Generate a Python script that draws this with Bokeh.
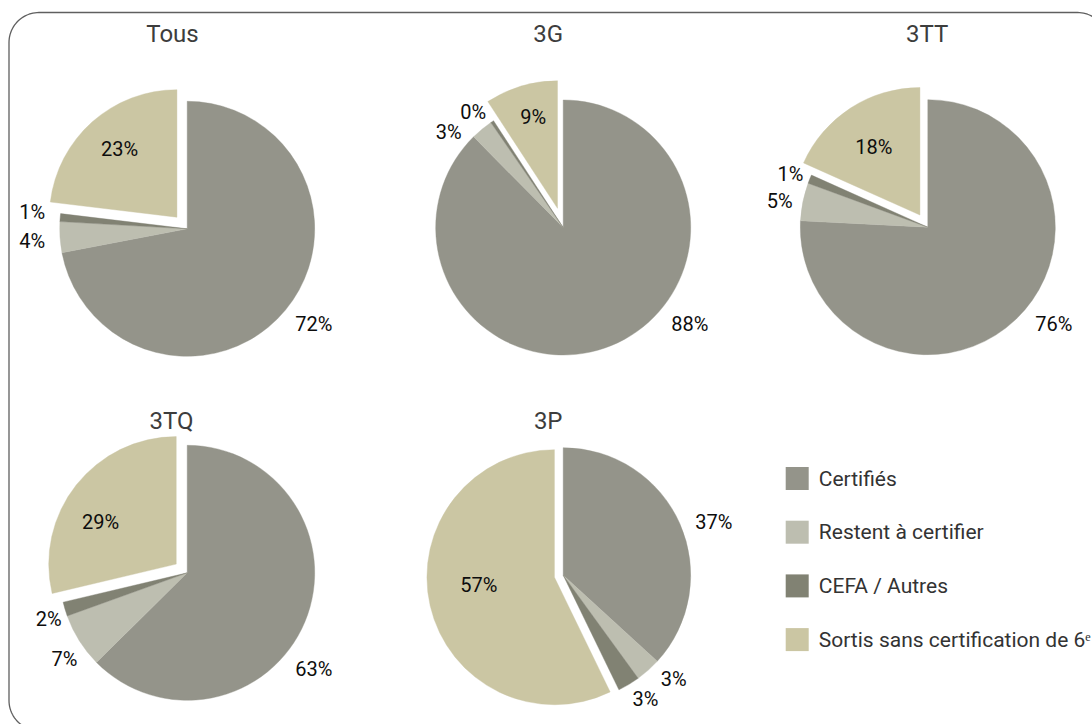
import numpy as np
from bokeh.plotting import figure
from bokeh.models import Range1d, ColumnDataSource
from bokeh.core.properties import value
from bokeh.embed import file_html
from bokeh.resources import INLINE

# ---------------- data ----------------
groups = ["Tous", "3G", "3TT", "3TQ", "3P"]
categories = ["Certifiés", "Restent à certifier", "CEFA / Autres", "Sortis sans certification de 6ᵉ"]
certifies = [72.0, 87.6, 75.8, 62.6, 36.8]
restent = [3.9, 2.8, 4.8, 6.9, 3.2]
cefa = [1.0, 0.4, 1.1, 1.8, 2.8]
sortis = [23.1, 9.2, 18.3, 28.7, 57.2]

# ---------------- style / layout ----------------
colors = ["#94948A", "#BDBEB0", "#818273", "#CBC6A3"]
FONT = "Roboto"
W, H = 1092, 724
def Y(yref):
    return 724 - yref

centers = [(186.7, 228.3), (562.7, 227.0), (927.3, 226.7), (186.7, 572.3), (562.7, 574.7)]
title_pos = [(172, 33.5), (547.7, 33.5), (926.7, 33.5), (171, 420), (547.7, 420)]
radius = 127.5
explode = [15.5, 20.0, 14.5, 14.0, 9.0]
label_offsets = [
    [(126.6, 95), (-155, 12.4), (-155, -16.6), (-67.7, -80)],
    [(126.6, 96.3), (-114.4, -96), (-90, -115.3), (-30, -110.3)],
    [(126, 96.6), (-148, -26.7), (-137.3, -53.4), (-54, -80)],
    [(126.6, 96), (-122.7, 86), (-138.4, 46), (-86.7, -50.6)],
    [(150.6, -53), (110.6, 103.6), (82.3, 123.6), (-84.4, 9.3)],
]

p = figure(width=W, height=H, x_range=Range1d(0, W), y_range=Range1d(724 - H, 724),
           x_axis_location=None, y_axis_location=None, toolbar_location=None,
           output_backend="svg", min_border=0)
p.grid.visible = False
p.outline_line_color = None
p.background_fill_color = "white"
p.border_fill_color = "white"

# ---------------- border (rounded box, partly outside the view) ----------------
rc = 30
bx0, by0, bx1, by1 = 8.5, 12.0, 1107.0, 730.0
t = np.linspace(0, np.pi / 2, 24)
tr = [(bx1 - rc + rc * np.sin(a), by0 + rc - rc * np.cos(a)) for a in t][::-1]
tl = [(bx0 + rc - rc * np.sin(a), by0 + rc - rc * np.cos(a)) for a in t]
bl = [(bx0 + rc - rc * np.cos(a), by1 - rc + rc * np.sin(a)) for a in t]
path = tr + tl + bl
p.line([q[0] for q in path], [Y(q[1]) for q in path], line_color="#5f5f5f", line_width=1.3)

# ---------------- pies ----------------
series = [certifies, restent, cefa, sortis]
for gi, g in enumerate(groups):
    vals = np.array([s[gi] for s in series], dtype=float)
    frac = vals / vals.sum()
    cum = np.concatenate([[0.0], np.cumsum(frac)])
    cx, cy = centers[gi]
    xs, ys, sa, ea, cols = [], [], [], [], []
    for k in range(4):
        a_end = np.pi / 2 - cum[k] * 2 * np.pi
        a_start = np.pi / 2 - cum[k + 1] * 2 * np.pi
        ox, oy = 0.0, 0.0
        if k == 3:
            mid = (a_start + a_end) / 2
            ox, oy = explode[gi] * np.cos(mid), explode[gi] * np.sin(mid)
        xs.append(cx + ox)
        ys.append(Y(cy) + oy)
        sa.append(a_start)
        ea.append(a_end)
        cols.append(colors[k])
    src = ColumnDataSource(dict(x=xs, y=ys, sa=sa, ea=ea, c=cols))
    p.wedge(x="x", y="y", radius=radius, start_angle="sa", end_angle="ea",
            fill_color="c", line_color="c", line_width=0.4, source=src)
    lx, ly, lt = [], [], []
    for k in range(4):
        dx, dy = label_offsets[gi][k]
        lx.append(cx + dx)
        ly.append(Y(cy + dy))
        lt.append(f"{round(vals[k])}%")
    p.text(x=lx, y=ly, text=lt, text_align="center", text_baseline="middle",
           text_font=value(FONT), text_font_size="20px", text_color="#0d0d0d")
    tx, ty = title_pos[gi]
    p.text(x=[tx], y=[Y(ty)], text=[g], text_align="center", text_baseline="middle",
           text_font=value(FONT), text_font_size="24px", text_color="#3d3d3d")

# ---------------- legend ----------------
leg_x, leg_y0, leg_dy, sq = 796.7, 478.0, 53.7, 23
for k, cat in enumerate(categories):
    yy = Y(leg_y0 + k * leg_dy)
    p.rect(x=[leg_x], y=[yy], width=sq, height=sq, fill_color=colors[k], line_color=None)
    p.text(x=[leg_x + 21.6], y=[yy], text=[cat], text_align="left", text_baseline="middle",
           text_font=value(FONT), text_font_size="21px", text_color="#333333")

open("out.html", "w").write(file_html(p, INLINE))
